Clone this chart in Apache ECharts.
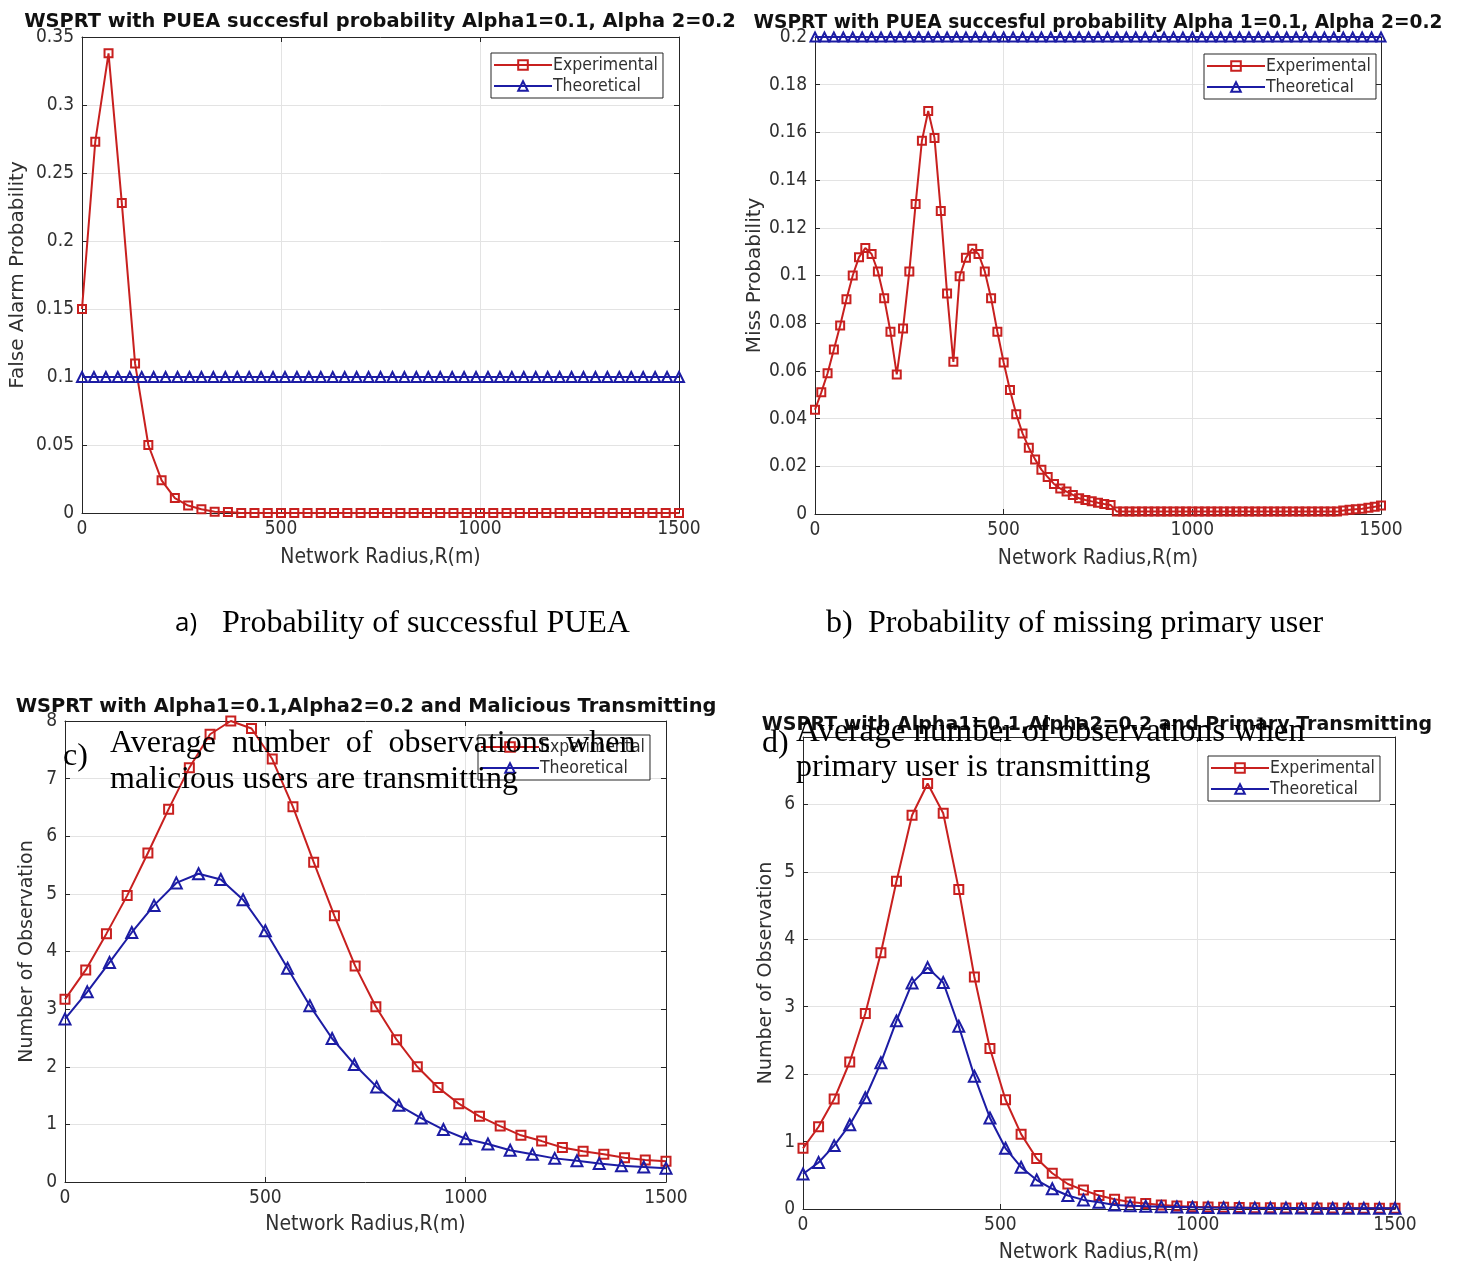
<!DOCTYPE html>
<html>
<head>
<meta charset="utf-8">
<script src="https://cdn.jsdelivr.net/npm/echarts@6/dist/echarts.min.js"></script>
<style>
html,body{margin:0;padding:0;background:#fff;}
#chart{width:1458px;height:1264px;}
</style>
</head>
<body>
<div id="chart"></div>
<script>
// ---------- DATA ----------
// (a) False alarm probability, PUEA successful probability
const aExpValues = [0.15, 0.273, 0.338, 0.228, 0.11, 0.05, 0.024, 0.011, 0.0055, 0.0027, 0.001, 0.0007,
  0,0,0,0,0,0,0,0,0,0,0,0,0,0,0,0,0,0,0,0,0,0,0,0,0,0,0,0,0,0,0,0,0,0];
const aTheoValues = [0.1,0.1,0.1,0.1,0.1,0.1,0.1,0.1,0.1,0.1,0.1,0.1,0.1,0.1,0.1,0.1,0.1,0.1,0.1,0.1,
  0.1,0.1,0.1,0.1,0.1,0.1,0.1,0.1,0.1,0.1,0.1,0.1,0.1,0.1,0.1,0.1,0.1,0.1,0.1,0.1,
  0.1,0.1,0.1,0.1,0.1,0.1,0.1,0.1,0.1,0.1,0.1];
// (b) Miss probability
const bExpValues = [0.0437, 0.051, 0.059, 0.069, 0.079, 0.090, 0.100, 0.1077, 0.1115, 0.109,
  0.1017, 0.0905, 0.0764, 0.0585, 0.0778, 0.1017, 0.130, 0.1565, 0.169, 0.1577,
  0.127, 0.0925, 0.0638, 0.0997, 0.1074, 0.1112, 0.109, 0.1017, 0.0905, 0.0764,
  0.0635, 0.052, 0.0418, 0.0338, 0.0278, 0.0229, 0.0186, 0.0155, 0.0126, 0.0107,
  0.0094, 0.008, 0.0066, 0.0059, 0.0053, 0.0047, 0.0042, 0.0038,
  0.001,0.001,0.001,0.001,0.001,0.001,0.001,0.001,0.001,0.001,0.001,0.001,
  0.001,0.001,0.001,0.001,0.001,0.001,0.001,0.001,0.001,0.001,0.001,0.001,
  0.001,0.001,0.001,0.001,0.001,0.001,0.001,0.001,0.001,0.001,0.001,0.001,
  0.0015, 0.0018, 0.002, 0.0022, 0.0026, 0.003, 0.0036];
const bTheoValues = [0.2,0.2,0.2,0.2,0.2,0.2,0.2,0.2,0.2,0.2,0.2,0.2,0.2,0.2,0.2,0.2,0.2,0.2,0.2,0.2,
  0.2,0.2,0.2,0.2,0.2,0.2,0.2,0.2,0.2,0.2,0.2,0.2,0.2,0.2,0.2,0.2,0.2,0.2,0.2,0.2,
  0.2,0.2,0.2,0.2,0.2,0.2,0.2,0.2,0.2,0.2,0.2,0.2,0.2,0.2,0.2,0.2,0.2,0.2,0.2,0.2,0.2];
// (c) Number of observations, malicious transmitting
const cExpValues = [3.17, 3.68, 4.31, 4.97, 5.71, 6.47, 7.19, 7.77, 8.0, 7.87,
  7.34, 6.51, 5.55, 4.62, 3.75, 3.04, 2.47, 2.0, 1.64, 1.36,
  1.14, 0.97, 0.81, 0.71, 0.60, 0.535, 0.48, 0.42, 0.38, 0.36];
const cTheoValues = [2.83, 3.30, 3.81, 4.33, 4.80, 5.19, 5.35, 5.25, 4.90, 4.36,
  3.71, 3.06, 2.49, 2.04, 1.65, 1.33, 1.11, 0.91, 0.75, 0.66,
  0.55, 0.48, 0.41, 0.37, 0.32, 0.28, 0.26, 0.24];
// (d) Number of observations, primary transmitting
const dExpValues = [0.90, 1.22, 1.63, 2.18, 2.90, 3.80, 4.86, 5.84, 6.31, 5.87,
  4.74, 3.44, 2.38, 1.62, 1.11, 0.75, 0.53, 0.37, 0.28, 0.20,
  0.145, 0.105, 0.08, 0.06, 0.045, 0.035, 0.03, 0.025, 0.022, 0.02,
  0.018, 0.016, 0.015, 0.014, 0.013, 0.012, 0.011, 0.011, 0.01];
const dTheoValues = [0.52, 0.69, 0.94, 1.25, 1.65, 2.17, 2.79, 3.35, 3.58, 3.36,
  2.71, 1.97, 1.35, 0.90, 0.62, 0.43, 0.30, 0.20, 0.135, 0.10,
  0.06, 0.05, 0.04, 0.035, 0.03, 0.025, 0.022, 0.02, 0.018, 0.016,
  0.015, 0.014, 0.013, 0.012, 0.011, 0.011, 0.01, 0.01, 0.01];

const radiusMax = 1500;
const xTickLabels = ['0', '500', '1000', '1500'];
const titles = [
  'WSPRT with PUEA succesful probability Alpha1=0.1, Alpha 2=0.2',
  'WSPRT with PUEA succesful probability Alpha 1=0.1, Alpha 2=0.2',
  'WSPRT with Alpha1=0.1,Alpha2=0.2 and Malicious Transmitting',
  'WSPRT with Alpha1=0.1,Alpha2=0.2 and Primary Transmitting'
];
const yNames = ['False Alarm Probability', 'Miss Probability', 'Number of Observation', 'Number of Observation'];
const xName = 'Network Radius,R(m)';
const legendNames = ['Experimental', 'Theoretical'];

// ---------- HELPERS ----------
// sample radii are evenly spaced over [0, 1500] (like MATLAB linspace)
function pairs(vals) {
  const n = vals.length - 1;
  return vals.map((v, i) => [i * radiusMax / n, v]);
}
const RED = '#c8201f';
const BLUE = '#1c1ca4';
const AX = '#262626';
const TXT = '#303030';
const GRID = '#e3e3e3';
const NARROW = '"Liberation Sans Narrow","DejaVu Sans Condensed","Liberation Sans",sans-serif';
const SANS = '"DejaVu Sans",sans-serif';
const SERIF = '"Liberation Serif","Times New Roman",serif';

const grids = [
  {left: 82, top: 37, width: 597, height: 476},
  {left: 815, top: 37, width: 566, height: 477},
  {left: 65, top: 721, width: 601, height: 461},
  {left: 803, top: 737, width: 592, height: 472}
];
const yCfg = [
  {min: 0, max: 0.35, interval: 0.05, gap: 54, fs: 20},
  {min: 0, max: 0.2, interval: 0.02, gap: 50, fs: 20},
  {min: 0, max: 8, interval: 1, gap: 28, fs: 19},
  {min: 0, max: 7, interval: 1, gap: 27, fs: 19, hideMax: true}
];
const xNameGaps = [34, 34, 32, 33];

const xAxes = [], yAxes = [];
grids.forEach((g, i) => {
  xAxes.push({
    type: 'value', gridIndex: i, min: 0, max: radiusMax, interval: 500,
    name: xName, nameLocation: 'middle', nameGap: xNameGaps[i],
    nameTextStyle: {fontFamily: NARROW, fontSize: 21, color: TXT},
    axisLine: {show: true, onZero: false, lineStyle: {color: AX, width: 1}},
    axisTick: {show: true, inside: true, length: 5, lineStyle: {color: AX}},
    axisLabel: {fontFamily: NARROW, fontSize: 19, color: TXT, margin: 7,
      formatter: function (v) { return xTickLabels[Math.round(v / 500)]; }},
    splitLine: {show: true, lineStyle: {color: GRID, width: 1}}
  });
  const yc = yCfg[i];
  yAxes.push({
    type: 'value', gridIndex: i, min: yc.min, max: yc.max, interval: yc.interval,
    name: yNames[i], nameLocation: 'middle', nameGap: yc.gap,
    nameTextStyle: {fontFamily: SANS, fontSize: yc.fs, color: TXT},
    axisLine: {show: true, onZero: false, lineStyle: {color: AX, width: 1}},
    axisTick: {show: true, inside: true, length: 5, lineStyle: {color: AX}},
    axisLabel: {fontFamily: NARROW, fontSize: 19, color: TXT, margin: 8,
      formatter: function (v) { return (yc.hideMax && v === yc.max) ? '' : String(+v.toFixed(4)); }},
    splitLine: {show: true, lineStyle: {color: GRID, width: 1}}
  });
});
// mirror axes (top / right) for the MATLAB box with ticks
grids.forEach((g, i) => {
  xAxes.push({
    type: 'value', gridIndex: i, position: 'top', min: 0, max: radiusMax, interval: 500,
    axisLine: {show: true, onZero: false, lineStyle: {color: AX, width: 1}},
    axisTick: {show: true, inside: true, length: 5, lineStyle: {color: AX}},
    axisLabel: {show: false}, splitLine: {show: false}
  });
  const yc = yCfg[i];
  yAxes.push({
    type: 'value', gridIndex: i, position: 'right', min: yc.min, max: yc.max, interval: yc.interval,
    axisLine: {show: true, onZero: false, lineStyle: {color: AX, width: 1}},
    axisTick: {show: true, inside: true, length: 5, lineStyle: {color: AX}},
    axisLabel: {show: false}, splitLine: {show: false}
  });
});

function expSeries(vals, idx, size) {
  return {
    name: legendNames[0], type: 'line', xAxisIndex: idx, yAxisIndex: idx,
    data: pairs(vals), symbol: 'rect', symbolSize: size, showSymbol: true,
    lineStyle: {color: RED, width: 2},
    itemStyle: {color: 'rgba(255,255,255,0)', borderColor: RED, borderWidth: 2},
    animation: false, z: 3
  };
}
function theoSeries(vals, idx, size) {
  return {
    name: legendNames[1], type: 'line', xAxisIndex: idx, yAxisIndex: idx,
    data: pairs(vals), symbol: 'triangle', symbolSize: size, showSymbol: true,
    lineStyle: {color: BLUE, width: 2},
    itemStyle: {color: 'rgba(255,255,255,0)', borderColor: BLUE, borderWidth: 2},
    animation: false, z: 4
  };
}

const series = [
  expSeries(aExpValues, 0, 8), theoSeries(aTheoValues, 0, 10),
  expSeries(bExpValues, 1, 8), theoSeries(bTheoValues, 1, 9),
  expSeries(cExpValues, 2, 9), theoSeries(cTheoValues, 2, 11),
  expSeries(dExpValues, 3, 9), theoSeries(dTheoValues, 3, 11)
];

const titleSpecs = [[380, 12, 19.4], [1098, 14, 18.6], [366, 697, 19.4], [1097, 716, 19.0]];
const title = titles.map((t, i) => ({
  text: t, left: titleSpecs[i][0], top: titleSpecs[i][1], textAlign: 'center', padding: 0,
  textStyle: {fontFamily: SANS, fontWeight: 'bold', fontSize: titleSpecs[i][2], color: '#111'}
}));

const legendPos = [[491, 53], [1204, 54], [478, 735], [1208, 756]];
const legend = legendPos.map(p => ({
  data: legendNames, orient: 'vertical', left: p[0], top: p[1],
  itemWidth: 58, itemHeight: 12, itemGap: 3, padding: [3, 5, 3, 2],
  borderColor: AX, borderWidth: 1, backgroundColor: '#fff',
  textStyle: {fontFamily: NARROW, fontSize: 17.5, color: TXT, padding: [0, 0, 0, -4]},
  selectedMode: false
}));

function txt(x, y, s, font, align) {
  return {type: 'text', x: x, y: y, z: 100,
    style: {text: s, font: font, fill: '#000', align: align || 'left', verticalAlign: 'middle'}};
}
const CAP = '32px ' + SERIF;
const graphic = [
  txt(175, 624, 'a)', '26px "Open Sans",sans-serif'),
  txt(222, 624, 'Probability of successful PUEA', CAP),
  txt(826, 624, 'b)', CAP),
  txt(868, 624, 'Probability of missing primary user', CAP),
  txt(63, 757, 'c)', CAP),
  txt(110, 744, 'Average  number  of  observations  when', CAP),
  txt(110, 780, 'malicious users are transmitting', CAP),
  txt(762, 744, 'd)', CAP),
  txt(796, 732, 'Average number of observations when', '33px ' + SERIF),
  txt(796, 768, 'primary user is transmitting', CAP)
];

const chart = echarts.init(document.getElementById('chart'), null, {renderer: 'canvas'});
chart.setOption({
  backgroundColor: '#fff',
  animation: false,
  title: title,
  legend: legend,
  grid: grids.map(g => Object.assign({containLabel: false, show: false}, g)),
  xAxis: xAxes,
  yAxis: yAxes,
  series: series,
  graphic: graphic
});
</script>
</body>
</html>
